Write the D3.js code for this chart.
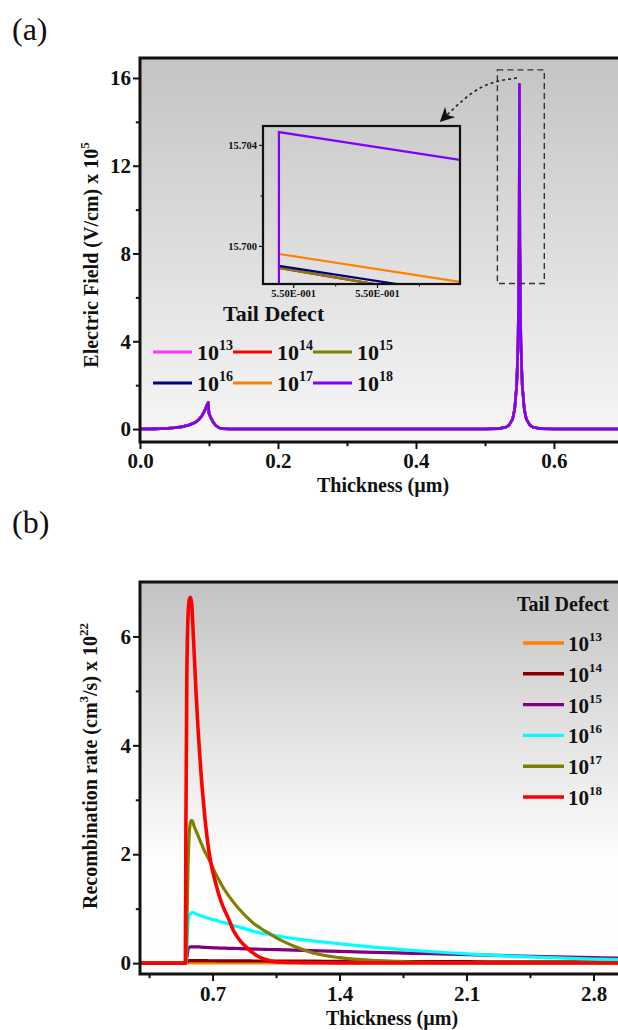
<!DOCTYPE html>
<html>
<head>
<meta charset="utf-8">
<script src="https://cdn.jsdelivr.net/npm/d3@7"></script>
<style>
  body { margin: 0; background: #fff; }
  text { font-family: "Liberation Serif", "Times New Roman", serif; fill: #111; }
</style>
</head>
<body>
<div id="chart"></div>
<script>
// ---------- data ----------
const tailExp = ["13", "14", "15", "16", "17", "18"];
const fieldColors = ["#ff33ff", "#ff0000", "#808000", "#000080", "#ff8000", "#8000ff"];
const rateColors = ["#ff8000", "#800000", "#800080", "#00ffff", "#808000", "#ff0000"];

// (a) electric field (x 10^5 V/cm) vs thickness (um); all six densities overlap here
const fieldX = [0, 0.02, 0.04, 0.05, 0.06, 0.07, 0.08, 0.085, 0.09, 0.094, 0.097, 0.099, 0.1, 0.103, 0.106, 0.11, 0.115, 0.12, 0.13, 0.15,
  0.5, 0.52, 0.53, 0.535, 0.54, 0.543, 0.546, 0.548, 0.5495, 0.55, 0.5505, 0.552, 0.554, 0.557, 0.56, 0.565, 0.57, 0.58, 0.6, 0.7];
const fieldE = [0, 0.01, 0.03, 0.06, 0.1, 0.17, 0.3, 0.42, 0.62, 0.85, 1.1, 1.2, 0.7, 0.5, 0.32, 0.15, 0.05, 0.02, 0.005, 0,
  0, 0.02, 0.08, 0.18, 0.45, 0.9, 2.0, 4.0, 8.5, 15.7, 8.5, 4.0, 2.0, 0.9, 0.45, 0.18, 0.08, 0.02, 0, 0];

// inset (zoom on the peak)
const insetEdgeX = [0.5499883, 0.5500099];
const insetStartE = [15.69913, 15.69913, 15.69913, 15.69921, 15.69968, 15.70451];
const insetEndE = [15.69791, 15.69791, 15.69791, 15.6981, 15.69857, 15.70341];
const insetYTicks = [15.700, 15.704];
const insetYMinor = [15.702];
const insetXTicks = [0.54999, 0.55000];
const insetXMinor = [0.549995, 0.550005];

// annotation: dashed box around the peak and the arrow to the inset (data units)
const zoomBoxX = [0.518, 0.586];
const zoomBoxE = [6.63, 16.37];
const arrowX = [0.5464, 0.4928, 0.442];
const arrowE = [16.0, 15.54, 14.22];

const xTicksA = [0, 0.2, 0.4, 0.6], xMinorA = [0.1, 0.3, 0.5];
const yTicksA = [0, 4, 8, 12, 16], yMinorA = [2, 6, 10, 14];

// (b) recombination rate (x 10^22) vs thickness (um)
const rateX = [0.30, 0.550, 0.553, 0.558, 0.565, 0.572, 0.578, 0.585, 0.590, 0.600, 0.610, 0.620, 0.635, 0.650, 0.670, 0.690,
  0.715, 0.740, 0.760, 0.790, 0.815, 0.850, 0.890, 0.930, 0.965, 1.010, 1.060, 1.150, 1.250, 1.400, 1.600, 1.800,
  2.000, 2.200, 2.400, 2.600, 2.800, 2.950];
const rate13 = [0, 0, 0, 0.003, 0.005, 0.005, 0.005, 0.005, 0.005, 0.005, 0.005, 0.005, 0.005, 0.005, 0.005, 0.005,
  0.005, 0.005, 0.005, 0.005, 0.005, 0.005, 0.005, 0.005, 0.005, 0.005, 0.005, 0.005, 0.005, 0.005, 0.005, 0.005,
  0.005, 0.005, 0.005, 0.005, 0.005, 0.005];
const rate14 = [0, 0, 0, 0.02, 0.04, 0.045, 0.045, 0.045, 0.045, 0.045, 0.045, 0.045, 0.044, 0.044, 0.044, 0.043,
  0.043, 0.042, 0.042, 0.041, 0.041, 0.04, 0.04, 0.039, 0.039, 0.038, 0.037, 0.036, 0.035, 0.033, 0.031, 0.029,
  0.027, 0.025, 0.024, 0.022, 0.021, 0.02];
const rate15 = [0, 0, 0, 0.1, 0.25, 0.29, 0.3, 0.3, 0.3, 0.3, 0.3, 0.3, 0.295, 0.29, 0.287, 0.283,
  0.28, 0.277, 0.275, 0.272, 0.27, 0.266, 0.262, 0.258, 0.255, 0.25, 0.246, 0.238, 0.23, 0.215, 0.197, 0.18,
  0.165, 0.147, 0.131, 0.115, 0.1, 0.09];
const rate16 = [0, 0, 0, 0.3, 0.75, 0.88, 0.9, 0.93, 0.93, 0.92, 0.9, 0.89, 0.87, 0.85, 0.83, 0.81,
  0.79, 0.76, 0.75, 0.72, 0.69, 0.66, 0.62, 0.58, 0.55, 0.53, 0.5, 0.45, 0.41, 0.355, 0.29, 0.235,
  0.19, 0.152, 0.12, 0.095, 0.075, 0.063];
const rate17 = [0, 0, 0, 0.6, 1.8, 2.4, 2.58, 2.62, 2.6, 2.5, 2.42, 2.34, 2.22, 2.1, 1.97, 1.84,
  1.65, 1.5, 1.38, 1.23, 1.12, 0.98, 0.84, 0.72, 0.64, 0.55, 0.45, 0.31, 0.19, 0.1, 0.045, 0.02,
  0.01, 0.006, 0.005, 0.004, 0.004, 0.004];
const rate18 = [0, 0, 2.5, 5.2, 6.4, 6.68, 6.72, 6.6, 6.3, 5.6, 4.9, 4.3, 3.55, 2.95, 2.3, 1.85,
  1.5, 1.2, 1.02, 0.8, 0.6, 0.42, 0.28, 0.17, 0.1, 0.05, 0.02, 0.01, 0.008, 0.005, 0.004, 0.003,
  0.003, 0.003, 0.003, 0.003, 0.003, 0.003];
const rateSeries = [rate13, rate14, rate15, rate16, rate17, rate18];

const xTicksB = [0.7, 1.4, 2.1, 2.8], xMinorB = [0.35, 1.05, 1.75, 2.45];
const yTicksB = [0, 2, 4, 6], yMinorB = [1, 3, 5];

// ---------- svg ----------
const svg = d3.select("#chart").append("svg")
  .attr("width", 618)
  .attr("height", 1030);

const defs = svg.append("defs");
function grad(id, stops) {
  const g = defs.append("linearGradient").attr("id", id)
    .attr("x1", 0).attr("y1", 0).attr("x2", 0).attr("y2", 1);
  stops.forEach(s => g.append("stop").attr("offset", s[0]).attr("stop-color", s[1]));
}
grad("gradA", [["0%", "#c4c4c4"], ["100%", "#f7f7f7"]]);
grad("gradB", [["0%", "#c3c3c3"], ["72%", "#fefefe"], ["100%", "#ffffff"]]);
defs.append("marker").attr("id", "arrowHead")
  .attr("viewBox", "0 0 10 10").attr("refX", 5).attr("refY", 5)
  .attr("markerWidth", 9).attr("markerHeight", 9)
  .attr("orient", "auto")
  .append("path").attr("d", "M0,0 L10,5 L0,10 L3,5 Z").attr("fill", "#111");

// generic framed panel with ticks
function panel(x, y, cfg) {
  const [x0, x1] = x.range();
  const [y0, y1] = y.range(); // y0 bottom, y1 top
  const g = svg.append("g");
  const clipId = cfg.id + "Clip";
  defs.append("clipPath").attr("id", clipId)
    .append("rect").attr("x", x0).attr("y", y1).attr("width", x1 - x0).attr("height", y0 - y1);

  if (cfg.grad) {
    g.append("rect").attr("x", x0).attr("y", y1).attr("width", x1 - x0).attr("height", y0 - y1)
      .attr("fill", `url(#${cfg.grad})`);
  }

  const fs = cfg.fontSize;
  const styleAxis = sel => {
    sel.select(".domain").remove();
    sel.selectAll(".tick line").attr("stroke", "#111").attr("stroke-width", cfg.tickWidth);
    sel.selectAll(".tick text").attr("font-size", fs).attr("font-weight", "bold")
      .attr("font-family", "'Liberation Serif', serif").attr("fill", "#111");
  };

  g.append("g").attr("transform", `translate(${x0},0)`)
    .call(d3.axisLeft(y).tickValues(cfg.yTicks).tickSize(cfg.tickLen).tickPadding(2).tickFormat(cfg.yFmt))
    .call(styleAxis);
  g.append("g").attr("transform", `translate(${x0},0)`)
    .call(d3.axisLeft(y).tickValues(cfg.yMinor).tickSize(cfg.tickLen * 0.6).tickFormat(""))
    .call(styleAxis);
  g.append("g").attr("transform", `translate(0,${y0})`)
    .call(d3.axisBottom(x).tickValues(cfg.xTicks).tickSize(cfg.tickLen).tickPadding(cfg.xPad).tickFormat(cfg.xFmt))
    .call(styleAxis);
  g.append("g").attr("transform", `translate(0,${y0})`)
    .call(d3.axisBottom(x).tickValues(cfg.xMinor).tickSize(cfg.tickLen * 0.6).tickFormat(""))
    .call(styleAxis);

  const plot = g.append("g").attr("clip-path", `url(#${clipId})`);

  // frame drawn after so it sits over the curves
  const frame = svg.append("g").attr("stroke", "#111").attr("stroke-width", cfg.frameWidth).attr("fill", "none");
  if (cfg.fullBox) {
    frame.append("rect").attr("x", x0).attr("y", y1).attr("width", x1 - x0).attr("height", y0 - y1);
  } else {
    frame.append("path").attr("d", `M${x1},${y1} L${x0},${y1} L${x0},${y0} L${x1},${y0}`);
  }
  return plot;
}

// ---------- panel (a) ----------
const xA = d3.scaleLinear().domain([0, 0.6957]).range([140, 620]);
const yA = d3.scaleLinear().domain([-0.59, 16.91]).range([442, 58]);

const plotA = panel(xA, yA, {
  id: "a", grad: "gradA", fontSize: 21, tickLen: 7, tickWidth: 2, frameWidth: 3, xPad: 4,
  xTicks: xTicksA, xMinor: xMinorA, yTicks: yTicksA, yMinor: yMinorA,
  xFmt: d3.format(".1f"), yFmt: d3.format("d")
});

const lineA = d3.line().x(d => xA(d[0])).y(d => yA(d[1]));
const fieldPts = fieldX.map((v, i) => [v, fieldE[i]]);
fieldColors.forEach(c => {
  plotA.append("path").datum(fieldPts)
    .attr("fill", "none").attr("stroke", c).attr("stroke-width", 2.6)
    .attr("stroke-linejoin", "round").attr("d", lineA);
});

// dashed box + arrow
svg.append("rect")
  .attr("x", xA(zoomBoxX[0])).attr("y", yA(zoomBoxE[1]))
  .attr("width", xA(zoomBoxX[1]) - xA(zoomBoxX[0]))
  .attr("height", yA(zoomBoxE[0]) - yA(zoomBoxE[1]))
  .attr("fill", "none").attr("stroke", "#333").attr("stroke-width", 1.4)
  .attr("stroke-dasharray", "6,4");
svg.append("path")
  .datum(arrowX.map((v, i) => [v, arrowE[i]]))
  .attr("d", d3.line().x(d => xA(d[0])).y(d => yA(d[1])).curve(d3.curveNatural))
  .attr("fill", "none").attr("stroke", "#222").attr("stroke-width", 1.6)
  .attr("stroke-dasharray", "3,3")
  .attr("marker-end", "url(#arrowHead)");

// inset
const xIn = d3.scaleLinear().domain([0.5499864, 0.5500099]).range([263, 460]);
const yIn = d3.scaleLinear().domain([15.69849, 15.70475]).range([284, 126]);
const fmtSci = d => {
  const e = Math.floor(Math.log10(Math.abs(d)));
  const m = d / Math.pow(10, e);
  const sign = e < 0 ? "-" : "+";
  return m.toFixed(2) + "E" + sign + String(Math.abs(e)).padStart(3, "0");
};
const plotIn = panel(xIn, yIn, {
  id: "inset", grad: null, fontSize: 10.5, tickLen: 4, tickWidth: 1.2, frameWidth: 2.2, xPad: 2, fullBox: true,
  xTicks: insetXTicks, xMinor: insetXMinor, yTicks: insetYTicks, yMinor: insetYMinor,
  xFmt: fmtSci, yFmt: d3.format(".3f")
});
const lineIn = d3.line().x(d => xIn(d[0])).y(d => yIn(d[1]));
fieldColors.forEach((c, i) => {
  const pts = [[insetEdgeX[0], insetStartE[i]], [insetEdgeX[1], insetEndE[i]]];
  if (i === fieldColors.length - 1) pts.unshift([insetEdgeX[0], 15.6980]);
  plotIn.append("path").datum(pts)
    .attr("fill", "none").attr("stroke", c).attr("stroke-width", 2.2).attr("d", lineIn);
});

// axis titles (a)
svg.append("text").attr("x", 12).attr("y", 40).attr("font-size", 32).text("(a)");
svg.append("text")
  .attr("transform", "translate(98,255) rotate(-90)")
  .attr("text-anchor", "middle").attr("font-size", 20).attr("font-weight", "bold")
  .call(t => {
    t.append("tspan").text("Electric Field (V/cm) x 10");
    t.append("tspan").attr("dy", -9).attr("font-size", 13).text("5");
  });
svg.append("text").attr("x", 383).attr("y", 492)
  .attr("text-anchor", "middle").attr("font-size", 20).attr("font-weight", "bold")
  .text("Thickness (\u00b5m)");

// legend (a)
svg.append("text").attr("x", 223).attr("y", 321)
  .attr("font-size", 22).attr("font-weight", "bold").text("Tail Defect");
tailExp.forEach((e, i) => {
  const lx = 153 + (i % 3) * 80;
  const ly = 352 + Math.floor(i / 3) * 31;
  svg.append("line").attr("x1", lx).attr("x2", lx + 39).attr("y1", ly).attr("y2", ly)
    .attr("stroke", fieldColors[i]).attr("stroke-width", 3.2);
  svg.append("text").attr("x", lx + 44).attr("y", ly + 8)
    .attr("font-size", 22).attr("font-weight", "bold")
    .call(t => {
      t.append("tspan").text("10");
      t.append("tspan").attr("dy", -10).attr("font-size", 14).text(e);
    });
});

// ---------- panel (b) ----------
const xB = d3.scaleLinear().domain([0.30, 2.946]).range([140, 620]);
const yB = d3.scaleLinear().domain([-0.2, 7.0]).range([974, 582]);

const plotB = panel(xB, yB, {
  id: "b", grad: "gradB", fontSize: 21, tickLen: 7, tickWidth: 2, frameWidth: 3, xPad: 5,
  xTicks: xTicksB, xMinor: xMinorB, yTicks: yTicksB, yMinor: yMinorB,
  xFmt: d3.format(".1f"), yFmt: d3.format("d")
});

const lineB = d3.line().x(d => xB(d[0])).y(d => yB(d[1])).curve(d3.curveMonotoneX);
rateSeries.forEach((s, i) => {
  plotB.append("path").datum(rateX.map((v, k) => [v, s[k]]))
    .attr("fill", "none").attr("stroke", rateColors[i])
    .attr("stroke-width", i === 5 ? 3.6 : 3.2)
    .attr("stroke-linejoin", "round").attr("d", lineB);
});

svg.append("text").attr("x", 12).attr("y", 533).attr("font-size", 32).text("(b)");
svg.append("text")
  .attr("transform", "translate(97,766) rotate(-90)")
  .attr("text-anchor", "middle").attr("font-size", 20).attr("font-weight", "bold")
  .call(t => {
    t.append("tspan").text("Recombination rate (cm");
    t.append("tspan").attr("dy", -9).attr("font-size", 13).text("3");
    t.append("tspan").attr("dy", 9).text("/s) x 10");
    t.append("tspan").attr("dy", -9).attr("font-size", 13).text("22");
  });
svg.append("text").attr("x", 392).attr("y", 1025)
  .attr("text-anchor", "middle").attr("font-size", 20).attr("font-weight", "bold")
  .text("Thickness (\u00b5m)");

// legend (b)
svg.append("text").attr("x", 517).attr("y", 611)
  .attr("font-size", 20).attr("font-weight", "bold").text("Tail Defect");
tailExp.forEach((e, i) => {
  const ly = 643 + i * 30.8;
  svg.append("line").attr("x1", 523).attr("x2", 564).attr("y1", ly).attr("y2", ly)
    .attr("stroke", rateColors[i]).attr("stroke-width", 3.4);
  svg.append("text").attr("x", 568).attr("y", ly + 8)
    .attr("font-size", 21).attr("font-weight", "bold")
    .call(t => {
      t.append("tspan").text("10");
      t.append("tspan").attr("dy", -10).attr("font-size", 13).text(e);
    });
});
</script>
</body>
</html>
